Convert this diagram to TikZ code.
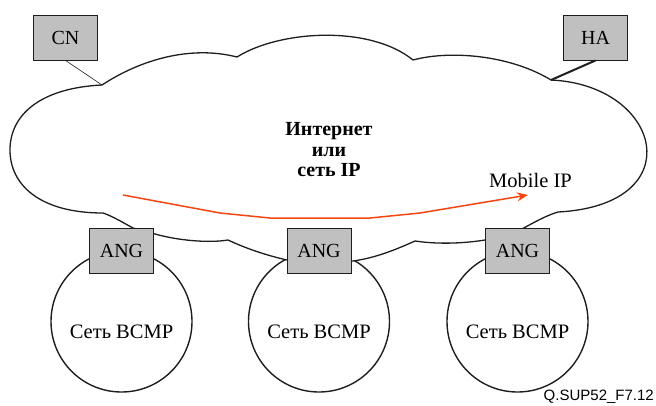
\documentclass[tikz,border=0pt]{standalone}
\usepackage{fontspec}
\setmainfont{Liberation Serif}
\newfontfamily\labelsans{Liberation Sans}
\usetikzlibrary{arrows.meta}
\definecolor{boxgray}{RGB}{192,192,192}
\definecolor{linedark}{RGB}{30,30,30}
\definecolor{arrowred}{RGB}{245,70,20}
\tikzset{
  devbox/.style={draw=linedark, line width=0.9pt, fill=boxgray, minimum width=64pt, minimum height=45pt, inner sep=0pt, font=\fontsize{20}{22}\selectfont},
  netcircle/.style={draw=linedark, line width=1.4pt, circle, minimum size=141pt, inner sep=0pt},
  nettext/.style={font=\fontsize{20.5}{22}\selectfont},
  cloudline/.style={draw=linedark, line width=1.3pt, line join=round},
  redarrow/.style={draw=arrowred, line width=1.5pt, -{Stealth[length=11pt,width=9pt]}},
}
\begin{document}
\begin{tikzpicture}[x=1pt,y=-1pt]
\useasboundingbox (0,0) rectangle (656,405);
% circles
\node[netcircle] (c1) at (121.5,321.5) {};
\node[netcircle] (c2) at (319,321.5) {};
\node[netcircle] (c3) at (517.5,321.5) {};
\node[nettext] (t1) at (121.5,332) {Сеть BCMP};
\node[nettext] (t2) at (319,332) {Сеть BCMP};
\node[nettext] (t3) at (517.5,332) {Сеть BCMP};
% cloud
\coordinate (p1) at (102,85);
\coordinate (p4) at (551,80);
\path[cloudline, fill=white] (p1)
  .. controls (140,60) and (190,45) .. (237,57)
  .. controls (280,30) and (370,25) .. (413,60)
  .. controls (450,50) and (510,55) .. (p4)
  .. controls (662,85) and (692,205) .. (558,212)
  .. controls (545,216) and (535,222) .. (520,230)
  -- (485,240)
  .. controls (460,244) and (435,244) .. (415,241)
  .. controls (395,250) and (375,258) .. (353,261)
  -- (287,260)
  .. controls (265,255) and (245,248) .. (228,240)
  .. controls (210,243) and (180,241) .. (155,234)
  -- (133,228)
  .. controls (122,222) and (112,216) .. (103,213)
  .. controls (40,213) and (10,185) .. (10,150)
  .. controls (10,115) and (40,88) .. (p1) -- cycle;
% boxes
\foreach \n/\x/\y/\t in {cn/65.5/37.5/CN, ha/595.5/37.5/HA, ang1/121.5/250.5/ANG, ang2/319/250.5/ANG, ang3/517.5/250.5/ANG}{
  \fill[linedark] (\x-32,\y+19.5) rectangle (\x+32,\y+23.5);
  \node[devbox] (\n) at (\x,\y) {\t};
}
% connectors
\draw[linedark, line width=0.6pt] (cn.south) -- (p1);
\draw[linedark, line width=2pt] (ha.south) -- (p4);
% texts in cloud
\node[font=\bfseries\fontsize{20}{20.5}\selectfont, align=center] (inet) at (329,150) {Интернет\\или\\сеть IP};
\node[font=\fontsize{20.5}{22}\selectfont, anchor=west, inner sep=0pt] (mip) at (489,180) {Mobile IP};
% red arrow
\coordinate (ra) at (123,195);
\coordinate (rb) at (528,195);
\draw[redarrow, line join=round] (ra) -- (220,213) -- (270,218) -- (370,218) -- (420,213) -- (rb);
% figure id
\node[font=\labelsans\fontsize{15}{16}\selectfont, anchor=south east, inner sep=1pt] (fid) at (655,405) {Q.SUP52\_F7.12};
\end{tikzpicture}
\end{document}
